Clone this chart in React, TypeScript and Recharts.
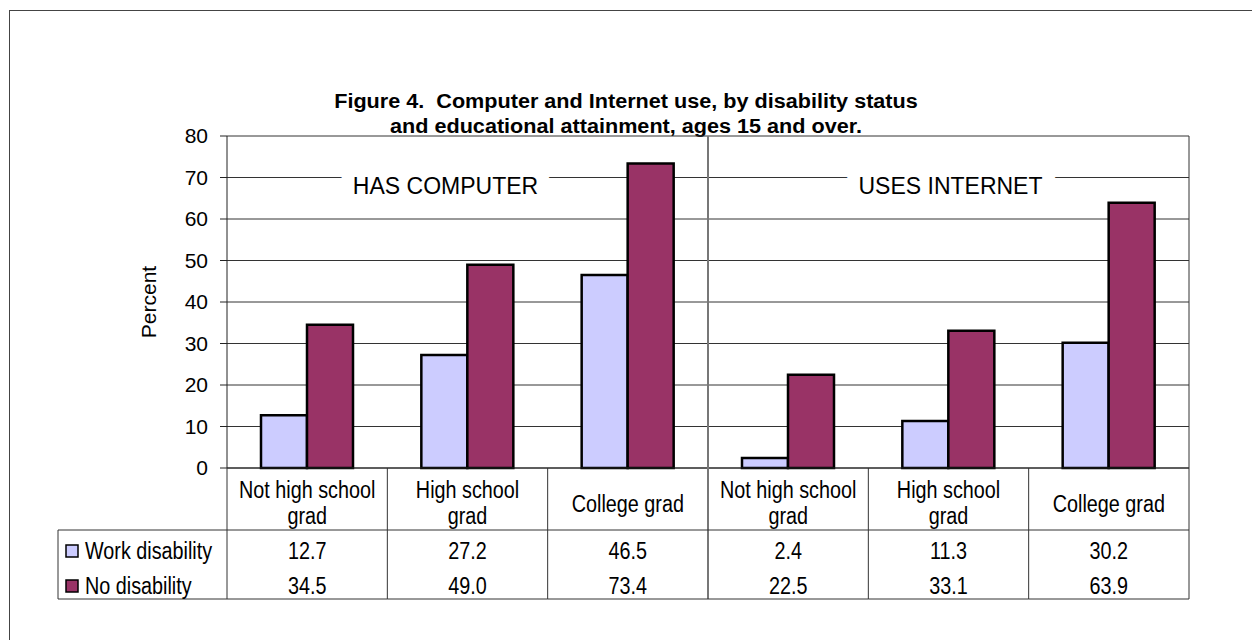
import React from "react";
import {
  BarChart,
  Bar,
  XAxis,
  YAxis,
  CartesianGrid,
  ReferenceDot,
} from "recharts";

// chart values
const columnIds = ["c-nhs", "c-hs", "c-col", "i-nhs", "i-hs", "i-col"];
const headerLines = [
  ["Not high school", "grad"],
  ["High school", "grad"],
  ["College grad"],
  ["Not high school", "grad"],
  ["High school", "grad"],
  ["College grad"],
];
const workDisability = [12.7, 27.2, 46.5, 2.4, 11.3, 30.2];
const noDisability = [34.5, 49.0, 73.4, 22.5, 33.1, 63.9];
const seriesNames = ["Work disability", "No disability"];
const seriesColors = ["#CCCCFF", "#993366"];
const sections = [
  { text: "HAS COMPUTER", at: "c-hs", dx: -22 },
  { text: "USES INTERNET", at: "i-hs", dx: 2 },
];
const yTicks = [0, 10, 20, 30, 40, 50, 60, 70, 80];
const titleLines = [
  "Figure 4.  Computer and Internet use, by disability status",
  "and educational attainment, ages 15 and over.",
];

const data = columnIds.map((id, i) => ({
  id,
  work: workDisability[i],
  none: noDisability[i],
}));

// layout
const W = 1252;
const H = 640;
const PLOT_LEFT = 227;
const PLOT_RIGHT = 1189;
const PLOT_TOP = 136;
const AXIS_Y = 468;
const HEADER_BOTTOM = 530;
const TABLE_BOTTOM = 599;
const LEGEND_LEFT = 58;
const BAND = (PLOT_RIGHT - PLOT_LEFT) / columnIds.length;

const ARIAL = "'Liberation Sans', Arial, sans-serif";
const SQUEEZE = 0.86; // Arial Narrow look-alike
const TABLE_FS = 23;
const LINE = "#333";

// horizontally squeezed text, y is the visual centre line
function NarrowText({
  x,
  y,
  size,
  anchor = "middle",
  bold = false,
  squeeze = SQUEEZE,
  children,
}: any) {
  return (
    <g transform={`translate(${x} ${y}) scale(${squeeze} 1)`}>
      <text
        x={0}
        y={size * 0.35}
        textAnchor={anchor}
        fontFamily={ARIAL}
        fontSize={size}
        fontWeight={bold ? "bold" : "normal"}
        fill="#000"
        style={{ whiteSpace: "pre" }}
      >
        {children}
      </text>
    </g>
  );
}

function TableColumn(props: any) {
  const { x, payload } = props;
  const i = columnIds.indexOf(payload.value);
  const left = x - BAND / 2;
  const right = x + BAND / 2;
  const lines = headerLines[i];
  const rows = [workDisability[i], noDisability[i]];
  const rowY = [551, 586];
  const fullHeight = i === 2 || i === columnIds.length - 1;

  return (
    <g>
      <line
        x1={right}
        x2={right}
        y1={fullHeight ? PLOT_TOP : AXIS_Y}
        y2={TABLE_BOTTOM}
        stroke={i === 2 ? "#777" : LINE}
        strokeWidth={i === 2 ? 2 : 1}
      />
      <line x1={left} x2={right} y1={HEADER_BOTTOM} y2={HEADER_BOTTOM} stroke={LINE} />
      <line x1={left} x2={right} y1={TABLE_BOTTOM} y2={TABLE_BOTTOM} stroke={LINE} />
      {lines.map((t, k) => (
        <NarrowText
          key={k}
          x={x}
          y={lines.length === 1 ? 504 : k === 0 ? 490 : 516}
          size={TABLE_FS}
        >
          {t}
        </NarrowText>
      ))}
      {rows.map((v, k) => (
        <NarrowText key={k} x={x} y={rowY[k]} size={TABLE_FS}>
          {v.toFixed(1)}
        </NarrowText>
      ))}
      {i === 0 && (
        <g>
          <line x1={left} x2={left} y1={AXIS_Y} y2={TABLE_BOTTOM} stroke={LINE} />
          <line x1={LEGEND_LEFT} x2={left} y1={HEADER_BOTTOM} y2={HEADER_BOTTOM} stroke={LINE} />
          <line x1={LEGEND_LEFT} x2={left} y1={TABLE_BOTTOM} y2={TABLE_BOTTOM} stroke={LINE} />
          <line x1={LEGEND_LEFT} x2={LEGEND_LEFT} y1={HEADER_BOTTOM} y2={TABLE_BOTTOM} stroke={LINE} />
          {seriesNames.map((name, k) => (
            <g key={name}>
              <rect
                x={66}
                y={rowY[k] - 6}
                width={12}
                height={12}
                fill={seriesColors[k]}
                stroke="#000"
                strokeWidth={1.5}
              />
              <NarrowText x={85} y={rowY[k]} size={TABLE_FS} anchor="start">
                {name}
              </NarrowText>
            </g>
          ))}
        </g>
      )}
    </g>
  );
}

function SectionLabel({ viewBox, text, dx }: any) {
  const cx = viewBox.x + viewBox.width / 2 + dx;
  const cy = viewBox.y + viewBox.height / 2 + 8;
  return (
    <text
      x={cx}
      y={cy + 8}
      textAnchor="middle"
      fontFamily={ARIAL}
      fontSize={23}
      fill="#000"
      stroke="#fff"
      strokeWidth={26}
      strokeLinejoin="round"
      paintOrder="stroke"
    >
      {text}
    </text>
  );
}

export default function App() {
  return (
    <div
      style={{
        position: "absolute",
        left: 0,
        top: 0,
        width: W,
        height: H,
        overflow: "hidden",
        background: "#fff",
      }}
    >
      <div
        style={{
          position: "absolute",
          left: 9,
          top: 10,
          width: W + 20,
          height: H + 20,
          border: "1.5px solid #444",
        }}
      />
      <svg
        width={W}
        height={140}
        style={{ position: "absolute", left: 0, top: 0 }}
      >
        {titleLines.map((t, k) => (
          <NarrowText
            key={t}
            x={626}
            y={101 + k * 25}
            size={21}
            squeeze={1.03}
            bold
          >
            {t}
          </NarrowText>
        ))}
      </svg>
      <div style={{ position: "absolute", left: 0, top: 0 }}>
        <BarChart
          width={W}
          height={H}
          data={data}
          margin={{ top: PLOT_TOP, right: W - PLOT_RIGHT, bottom: 41, left: 157 }}
          barGap={0}
        >
          <CartesianGrid vertical={false} stroke="#333" />
          <XAxis
            dataKey="id"
            height={131}
            interval={0}
            tickLine={false}
            tickSize={0}
            tickMargin={0}
            axisLine={{ stroke: "#222" }}
            tick={(p: any) => <TableColumn {...p} />}
          />
          <YAxis
            width={70}
            domain={[0, 80]}
            ticks={yTicks}
            interval={0}
            tickSize={7}
            tickMargin={12}
            axisLine={{ stroke: "#222" }}
            tickLine={{ stroke: "#222" }}
            tick={{ fontFamily: ARIAL, fontSize: 21, fill: "#000" }}
            label={{
              content: (p: any) => (
                <text
                  x={148}
                  y={p.viewBox.y + p.viewBox.height / 2}
                  transform={`rotate(-90 148 ${p.viewBox.y + p.viewBox.height / 2})`}
                  textAnchor="middle"
                  dominantBaseline="central"
                  fontFamily={ARIAL}
                  fontSize={21}
                  fill="#000"
                >
                  Percent
                </text>
              ),
            }}
          />
          <Bar
            dataKey="work"
            name={seriesNames[0]}
            fill={seriesColors[0]}
            stroke="#000"
            strokeWidth={2.5}
            barSize={46}
            isAnimationActive={false}
          />
          <Bar
            dataKey="none"
            name={seriesNames[1]}
            fill={seriesColors[1]}
            stroke="#000"
            strokeWidth={2.5}
            barSize={46}
            isAnimationActive={false}
          />
          {sections.map((s) => (
            <ReferenceDot
              key={s.text}
              x={s.at}
              y={70}
              r={1}
              fill="none"
              stroke="none"
              label={{
                content: (p: any) => (
                  <SectionLabel viewBox={p.viewBox} text={s.text} dx={s.dx} />
                ),
              }}
            />
          ))}
        </BarChart>
      </div>
    </div>
  );
}
